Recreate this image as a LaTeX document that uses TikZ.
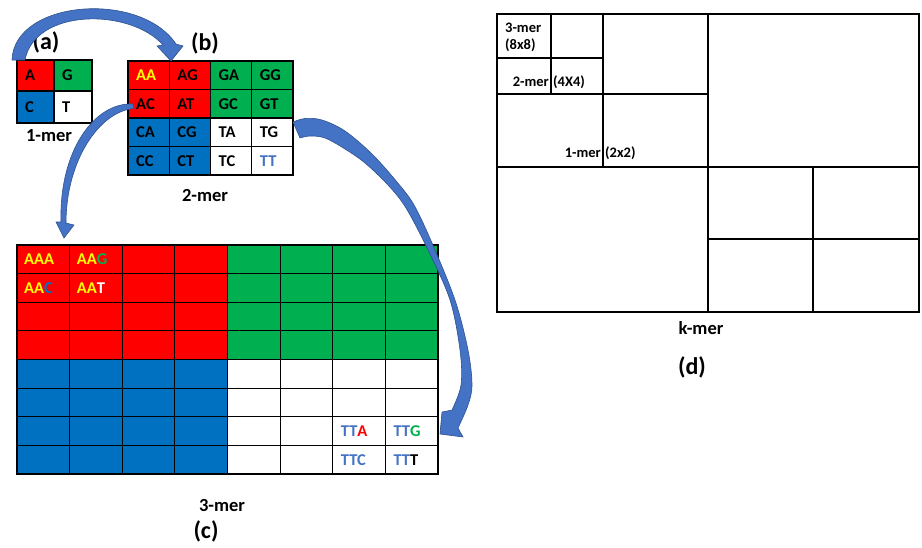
\documentclass[tikz,border=0pt]{standalone}
\usepackage{fontspec}
\setmainfont{Carlito}
\definecolor{cred}{HTML}{FF0000}
\definecolor{cgreen}{HTML}{00B050}
\definecolor{cblue}{HTML}{0070C0}
\definecolor{tblue}{HTML}{4472C4}
\definecolor{cyellow}{HTML}{FFFF00}
\definecolor{arrfill}{HTML}{4472C4}
\definecolor{arredge}{HTML}{2F528F}
\begin{document}
\begin{tikzpicture}[x=1pt,y=-1pt,
 celltxt/.style={anchor=west, font=\fontsize{16.5}{18}\selectfont\bfseries, inner sep=0pt},
 lbl/.style={font=\fontsize{18.5}{20}\selectfont\bfseries, inner sep=0pt},
 panel/.style={font=\fontsize{24}{26}\selectfont\bfseries, inner sep=0pt},
 smalltxt/.style={font=\fontsize{14.5}{16}\selectfont\bfseries, inner sep=0pt},
 gridline/.style={draw=black, line width=1.2pt},
 dline/.style={draw=black, line width=1.1pt},
 blockarrow/.style={fill=arrfill, draw=arredge, line width=0.6pt}]
\useasboundingbox (0,0) rectangle (922,547);

% ---------- (a) 1-mer ----------
\fill[cred] (17,60) rectangle (54,91);
\fill[cgreen] (54,60) rectangle (92,91);
\fill[cblue] (17,91) rectangle (54,123);
\draw[gridline] (17,60) rectangle (92,123) (54,60)--(54,123) (17,91)--(92,91);
\node[celltxt] (a1) at (25,75.5) {A};
\node[celltxt] (a2) at (62,75.5) {G};
\node[celltxt] (a3) at (25,107) {C};
\node[celltxt] (a4) at (62,107) {T};
\node[lbl] (la) at (49,136) {1-mer};
\node[panel] (pa) at (46,42) {(a)};

% ---------- (b) 2-mer ----------
\fill[cred] (128,61) rectangle (210.5,118);
\fill[cgreen] (210.5,61) rectangle (293,118);
\fill[cblue] (128,118) rectangle (210.5,175);
\draw[gridline] (128,61) rectangle (293,175);
\foreach \x in {169.25,210.5,251.75} \draw[gridline] (\x,61)--(\x,175);
\foreach \y in {89.5,118,146.5} \draw[gridline] (128,\y)--(293,\y);
\node[celltxt] (b11) at (136,75.25) {\color{cyellow}AA};
\node[celltxt] (b12) at (177.25,75.25) {AG};
\node[celltxt] (b13) at (218.5,75.25) {GA};
\node[celltxt] (b14) at (259.75,75.25) {GG};
\node[celltxt] (b21) at (136,103.75) {AC};
\node[celltxt] (b22) at (177.25,103.75) {AT};
\node[celltxt] (b23) at (218.5,103.75) {GC};
\node[celltxt] (b24) at (259.75,103.75) {GT};
\node[celltxt] (b31) at (136,132.25) {CA};
\node[celltxt] (b32) at (177.25,132.25) {CG};
\node[celltxt] (b33) at (218.5,132.25) {TA};
\node[celltxt] (b34) at (259.75,132.25) {TG};
\node[celltxt] (b41) at (136,160.75) {CC};
\node[celltxt] (b42) at (177.25,160.75) {CT};
\node[celltxt] (b43) at (218.5,160.75) {TC};
\node[celltxt] (b44) at (259.75,160.75) {\color{tblue}TT};
\node[lbl] (lb) at (205,195) {2-mer};
\node[panel] (pb) at (205,43) {(b)};

% ---------- (c) 3-mer ----------
\fill[cred] (17,245) rectangle (227.5,359.5);
\fill[cgreen] (227.5,245) rectangle (438,359.5);
\fill[cblue] (17,359.5) rectangle (227.5,474);
\draw[gridline] (17,245) rectangle (438,474);
\foreach \i in {1,...,7} {
  \draw[gridline] ({17+52.625*\i},245)--({17+52.625*\i},474);
  \draw[gridline] (17,{245+28.625*\i})--(438,{245+28.625*\i});
}
\node[celltxt] (c11) at (24,259.3) {\color{cyellow}AAA};
\node[celltxt] (c12) at (76.6,259.3) {{\color{cyellow}AA}{\color{cgreen}G}};
\node[celltxt] (c21) at (24,287.9) {{\color{cyellow}AA}{\color{cblue}C}};
\node[celltxt] (c22) at (76.6,287.9) {{\color{cyellow}AA}{\color{white}T}};
\node[celltxt] (c77) at (340.75,431.1) {{\color{tblue}TT}{\color{cred}A}};
\node[celltxt] (c78) at (393.4,431.1) {{\color{tblue}TT}{\color{cgreen}G}};
\node[celltxt] (c87) at (340.75,459.7) {\color{tblue}TTC};
\node[celltxt] (c88) at (393.4,459.7) {{\color{tblue}TT}T};
\node[lbl] (lc) at (222,505) {3-mer};
\node[panel] (pc) at (206,531) {(c)};

% ---------- (d) k-mer ----------
\draw[dline] (497,14) rectangle (919,312);
\draw[dline] (708,14)--(708,312);
\draw[dline] (497,167)--(919,167);
\draw[dline] (813,167)--(813,312);
\draw[dline] (708,239)--(919,239);
\draw[dline] (603,14)--(603,167);
\draw[dline] (497,94)--(708,94);
\draw[dline] (551,14)--(551,94);
\draw[dline] (497,58)--(603,58);
\node[smalltxt, anchor=west] (d3) at (505,28) {3-mer};
\node[smalltxt, anchor=west] (d3b) at (505,45) {(8x8)};
\node[smalltxt, anchor=east] (d2) at (549,82) {2-mer};
\node[smalltxt, anchor=west] (d2b) at (553,82) {(4X4)};
\node[smalltxt, anchor=east] (d1) at (601,153) {1-mer};
\node[smalltxt, anchor=west] (d1b) at (605,153) {(2x2)};
\node[lbl] (ld) at (701,328) {k-mer};
\node[panel] (pd) at (692,367) {(d)};

% ---------- curved block arrows ----------
% (a) -> (b)
\filldraw[blockarrow] (12,60) .. controls (14,0) and (140,-10) .. (176,44)
  -- (183,46) -- (171,61) -- (157,46) -- (163,45)
  .. controls (130,8) and (35,8) .. (25,60) -- cycle;
% (b) AC -> (c)
\filldraw[blockarrow] (133,104) .. controls (95,102) and (59,150) .. (61,222)
  -- (56,222) -- (64,238) -- (74,225) -- (66,223)
  .. controls (66,160) and (100,111) .. (134,108.5) -- cycle;
% (b) TG -> (c) TTG
\filldraw[blockarrow] plot[smooth, tension=0.55] coordinates {(293,122) (305,118.5) (322,120) (345,131) (372,154) (397,182) (414,205) (432,243) (455,300) (468,350) (472,385) (468,405) (458,428)}
  -- (463,437) -- (440,434) -- (442,412)
  -- plot[smooth, tension=0.55] coordinates {(452,410) (461,385) (460,350) (450,300) (428,250) (406,208) (388,185) (365,163) (345,149) (325,138) (310,136) (300,138)} -- cycle;
\end{tikzpicture}
\end{document}
